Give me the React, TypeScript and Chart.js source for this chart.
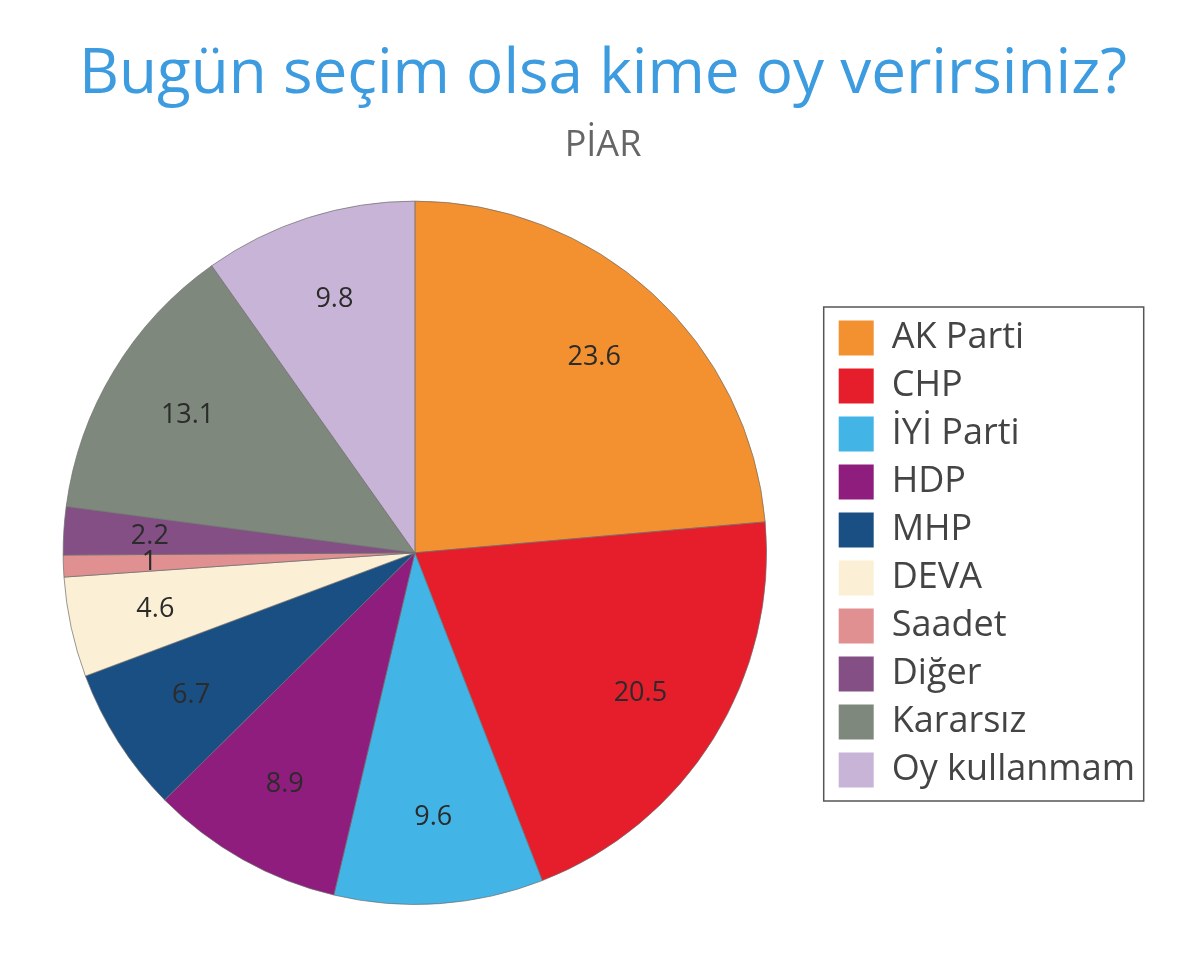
import React, { useEffect, useRef } from "react";
import { Chart, registerables } from "chart.js";

Chart.register(...registerables);

const titleText = "Bugün seçim olsa kime oy verirsiniz?";
const subtitleText = "PİAR";
const categories = ["AK Parti", "CHP", "İYİ Parti", "HDP", "MHP", "DEVA", "Saadet", "Diğer", "Kararsız", "Oy kullanmam"];
const values = [23.6, 20.5, 9.6, 8.9, 6.7, 4.6, 1, 2.2, 13.1, 9.8];
const colors = ["#f39130", "#e61e2b", "#42b4e6", "#8f1d7d", "#1a4f83", "#fbf0d6", "#e09090", "#834f85", "#7f887d", "#c8b4d6"];

const FONT = "'Open Sans', sans-serif";
const TITLE_SHIFT = 29;

const sliceLabels = {
  id: "sliceLabels",
  afterDatasetsDraw(chart: any) {
    const ctx = chart.ctx;
    const meta = chart.getDatasetMeta(0);
    ctx.save();
    ctx.font = `27px ${FONT}`;
    ctx.fillStyle = "#2b2b2b";
    ctx.textAlign = "center";
    ctx.textBaseline = "middle";
    meta.data.forEach((arc: any, i: number) => {
      const p = arc.getProps(["x", "y", "startAngle", "endAngle", "outerRadius"], true);
      const a = (p.startAngle + p.endAngle) / 2;
      const r = p.outerRadius * 0.755;
      ctx.fillText(String(values[i]), p.x + Math.cos(a) * r, p.y + Math.sin(a) * r);
    });
    ctx.restore();
  },
};

const shiftTitles = {
  id: "shiftTitles",
  afterLayout(chart: any) {
    (chart.boxes || []).forEach((b: any) => {
      const t = b && b.options && b.options.text;
      if (t === titleText || t === subtitleText) {
        b.left += TITLE_SHIFT;
        b.right += TITLE_SHIFT;
      }
    });
  },
};

const legendBorder = {
  id: "legendBorder",
  afterDraw(chart: any) {
    const lg = chart.legend;
    if (!lg || !lg.legendHitBoxes || !lg.legendHitBoxes.length) return;
    const hb = lg.legendHitBoxes;
    let minX = Infinity, minY = Infinity, maxY = -Infinity;
    hb.forEach((h: any) => {
      minX = Math.min(minX, h.left);
      minY = Math.min(minY, h.top);
      maxY = Math.max(maxY, h.top + h.height);
    });
    const ctx = chart.ctx;
    ctx.save();
    ctx.strokeStyle = "#555";
    ctx.lineWidth = 1.5;
    ctx.strokeRect(minX - 15, minY - 13, 320, maxY - minY + 26);
    ctx.restore();
  },
};

export default function App() {
  const ref = useRef<HTMLCanvasElement>(null);
  useEffect(() => {
    if (!ref.current) return;
    const chart = new Chart(ref.current, {
      type: "pie",
      data: {
        labels: categories,
        datasets: [
          {
            data: values,
            backgroundColor: colors,
            borderColor: "rgba(110,110,110,0.7)",
            borderWidth: 1,
          },
        ],
      },
      options: {
        animation: false,
        responsive: false,
        maintainAspectRatio: false,
        layout: { padding: { left: 3, right: 55, top: 10, bottom: 55 } },
        plugins: {
          title: {
            display: true,
            text: titleText,
            color: "#3d9be0",
            font: { family: FONT, size: 62, weight: "normal" },
            padding: { top: 28, bottom: 4 },
          },
          subtitle: {
            display: true,
            text: subtitleText,
            color: "#666",
            font: { family: FONT, size: 36, weight: "normal" },
            padding: { top: 8, bottom: 33 },
          },
          legend: {
            position: "right",
            align: "center",
            title: {
              display: true,
              text: "",
              font: { family: FONT, size: 10 },
              padding: { top: 0, bottom: 181 },
            },
            labels: {
              boxWidth: 35,
              boxHeight: 35,
              padding: 12,
              color: "#444",
              font: { family: FONT, size: 36 },
              generateLabels(c: any) {
                const items = Chart.overrides.pie.plugins.legend.labels.generateLabels(c);
                return items.map((it: any) => ({ ...it, lineWidth: 0, strokeStyle: "transparent" }));
              },
            },
          },
          tooltip: { enabled: false },
        },
      },
      plugins: [sliceLabels, shiftTitles, legendBorder],
    });
    return () => chart.destroy();
  }, []);
  return (
    <div style={{ position: "absolute", left: 0, top: 0, width: 1200, height: 960, background: "#fff" }}>
      <canvas ref={ref} width={1200} height={960} style={{ width: 1200, height: 960 }} />
    </div>
  );
}
